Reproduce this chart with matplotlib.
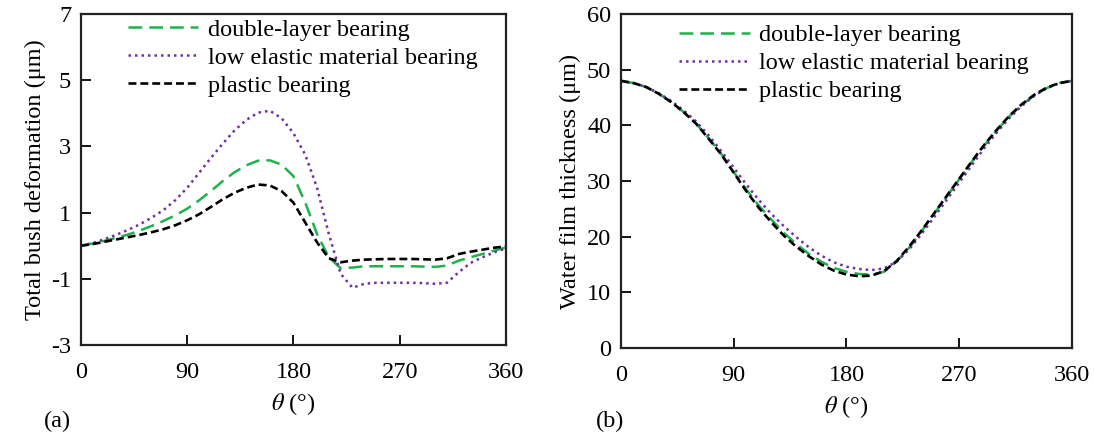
import matplotlib
matplotlib.use("Agg")
import matplotlib.pyplot as plt

plt.rcParams['font.family'] = ['Liberation Serif', 'DejaVu Serif']
plt.rcParams['mathtext.fontset'] = 'stix'
plt.rcParams['axes.unicode_minus'] = False

# angle (deg) where values were read
theta = list(range(0, 361, 10))

# (a) total bush deformation (um)
defo_double = [0, 0.07, 0.15, 0.24, 0.34, 0.46, 0.6, 0.75, 0.92, 1.12, 1.37, 1.65, 1.95,
               2.22, 2.43, 2.57, 2.58, 2.45, 2.1, 1.3, 0.35, -0.35, -0.68, -0.66, -0.62,
               -0.62, -0.62, -0.62, -0.62, -0.63, -0.64, -0.6, -0.45, -0.35, -0.25, -0.15, -0.05]
defo_low = [0, 0.08, 0.2, 0.33, 0.48, 0.65, 0.85, 1.08, 1.38, 1.75, 2.2, 2.65, 3.08,
            3.48, 3.8, 4.02, 4.08, 3.85, 3.4, 2.75, 1.75, 0.35, -0.85, -1.27, -1.15,
            -1.12, -1.12, -1.12, -1.12, -1.13, -1.15, -1.12, -0.8, -0.52, -0.35, -0.2, -0.08]
defo_plastic = [0, 0.05, 0.12, 0.19, 0.26, 0.33, 0.41, 0.5, 0.62, 0.77, 0.95, 1.17, 1.4,
                1.6, 1.75, 1.85, 1.82, 1.65, 1.3, 0.7, 0.1, -0.38, -0.5, -0.45, -0.42,
                -0.41, -0.4, -0.4, -0.4, -0.41, -0.42, -0.38, -0.25, -0.18, -0.12, -0.06, -0.02]

# (b) water film thickness (um)
film_double = [48, 47.6, 46.9, 45.7, 44.2, 42.4, 40.3, 37.7, 34.9, 31.6, 28.5, 25.6, 23.1,
               20.7, 18.7, 16.9, 15.5, 14.4, 13.7, 13.3, 13.2, 13.7, 15.5, 18.0, 21.0,
               24.1, 27.2, 30.3, 33.4, 36.4, 39.1, 41.6, 43.7, 45.4, 46.7, 47.6, 48]
film_low = [48, 47.6, 46.9, 45.8, 44.4, 42.7, 40.7, 38.2, 35.4, 32.4, 29.4, 26.6, 24.1,
            21.9, 19.9, 18.1, 16.6, 15.4, 14.6, 14.2, 14.0, 14.3, 15.5, 17.7, 20.5,
            23.5, 26.6, 29.7, 32.8, 35.9, 38.7, 41.3, 43.5, 45.3, 46.7, 47.6, 48]
film_plastic = [48, 47.6, 46.9, 45.7, 44.2, 42.4, 40.3, 37.6, 34.8, 31.5, 28.2, 25.2, 22.6,
                20.2, 18.2, 16.5, 15.0, 13.9, 13.2, 12.9, 13.0, 13.8, 15.6, 18.2, 21.1,
                24.2, 27.3, 30.4, 33.5, 36.5, 39.2, 41.7, 43.8, 45.5, 46.8, 47.6, 48]

labels = ['double-layer bearing', 'low elastic material bearing', 'plastic bearing']
green = '#1fb14c'
purple = '#7030a0'
fs = 17.5

fig = plt.figure(figsize=(10.94, 4.36), dpi=100)
ax1 = fig.add_axes([0.074, 0.2087, 0.3885, 0.759])
ax2 = fig.add_axes([0.5676, 0.2018, 0.4122, 0.766])


def draw(ax, d, l, p):
    ax.plot(theta, d, color=green, lw=1.8, dashes=(5.5, 2.8), label=labels[0])
    ax.plot(theta, l, color=purple, lw=1.8, dashes=(1, 1.6), label=labels[1])
    ax.plot(theta, p, color='black', lw=1.9, dashes=(3, 1.5), label=labels[2])
    ax.set_xlim(0, 360)
    ax.set_xticks([0, 90, 180, 270, 360])
    ax.tick_params(direction='in', length=7, width=1.3, labelsize=fs, pad=12)
    ax.tick_params(axis='y', pad=7)
    for s in ax.spines.values():
        s.set_linewidth(1.6)
        s.set_color('#222222')
    ax.set_xlabel(r'$\theta$ (°)', fontsize=fs, labelpad=6)


draw(ax1, defo_double, defo_low, defo_plastic)
ax1.set_ylim(-3, 7)
ax1.set_yticks([-3, -1, 1, 3, 5, 7])
ax1.set_ylabel('Total bush deformation (μm)', fontsize=fs, labelpad=4)
ax1.legend(loc='upper left', bbox_to_anchor=(0.076, 1.03), frameon=False, fontsize=fs,
           handlelength=2.9, labelspacing=0.25, borderpad=0.1, handletextpad=0.4)

draw(ax2, film_double, film_low, film_plastic)
ax2.set_ylim(0, 60)
ax2.set_yticks(range(0, 61, 10))
ax2.set_ylabel('Water film thickness (μm)', fontsize=fs, labelpad=4)
ax2.legend(loc='upper left', bbox_to_anchor=(0.097, 1.013), frameon=False, fontsize=fs,
           handlelength=2.9, labelspacing=0.25, borderpad=0.1, handletextpad=0.4)

fig.text(0.04, 0.02, '(a)', fontsize=fs)
fig.text(0.545, 0.02, '(b)', fontsize=fs)

fig.savefig('out.png', dpi=100)
